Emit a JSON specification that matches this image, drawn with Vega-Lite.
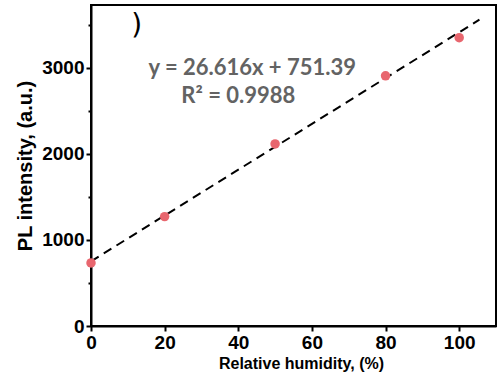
{
  "$schema": "https://vega.github.io/schema/vega-lite/v6.json",
  "width": 405,
  "height": 321,
  "autosize": "none",
  "padding": {"left": 91, "top": 5, "right": 4, "bottom": 54},
  "background": "white",
  "config": {
    "view": {"stroke": "black", "strokeWidth": 2},
    "axis": {
      "grid": false,
      "domainColor": "black",
      "domainWidth": 2,
      "tickColor": "black",
      "tickWidth": 2,
      "labelFont": "Liberation Sans",
      "labelFontWeight": "bold",
      "labelFontSize": 19,
      "labelColor": "black",
      "labelFlush": false,
      "titleFont": "Liberation Sans",
      "titleFontWeight": "bold",
      "titleColor": "black"
    }
  },
  "datasets": {
    "pts": [
      {"rh": 0, "pl": 733},
      {"rh": 20, "pl": 1271},
      {"rh": 50, "pl": 2116},
      {"rh": 80, "pl": 2907},
      {"rh": 100, "pl": 3350}
    ],
    "fit": [
      {"rh": 0, "pl": 751.39},
      {"rh": 105.5, "pl": 3559.4}
    ],
    "labels": [
      {"rh": 43.8, "pl": 3000, "t": "y = 26.616x + 751.39"},
      {"rh": 40, "pl": 2675, "t": "R² = 0.9988"}
    ],
    "mark": [
      {"rh": 12.4, "pl": 3490, "t": ")"}
    ]
  },
  "layer": [
    {
      "data": {"name": "fit"},
      "mark": {"type": "line", "color": "black", "strokeWidth": 2, "strokeDash": [9, 6]},
      "encoding": {
        "x": {
          "field": "rh", "type": "quantitative",
          "scale": {"domain": [0, 110], "nice": false},
          "axis": {
            "values": [0, 10, 20, 30, 40, 50, 60, 70, 80, 90, 100, 110],
            "labelExpr": "datum.value % 20 === 0 && datum.value <= 100 ? datum.label : ''",
            "tickSize": {"expr": "datum.value % 20 === 0 ? 5 : 3"},
            "labelPadding": 2,
            "title": "Relative humidity, (%)",
            "titleFontSize": 16,
            "titlePadding": 3,
            "titleX": 210
          }
        },
        "y": {
          "field": "pl", "type": "quantitative",
          "scale": {"domain": [0, 3730], "nice": false},
          "axis": {
            "values": [0, 500, 1000, 1500, 2000, 2500, 3000, 3500],
            "labelExpr": "datum.value % 1000 === 0 ? datum.value : ''",
            "tickSize": {"expr": "datum.value % 1000 === 0 ? 5 : 3"},
            "labelPadding": 2,
            "title": "PL intensity, (a.u.)",
            "titleFontSize": 20,
            "titlePadding": 6
          }
        }
      }
    },
    {
      "data": {"name": "pts"},
      "mark": {"type": "circle", "color": "#e8666e", "opacity": 1, "size": 90},
      "encoding": {
        "x": {"field": "rh", "type": "quantitative"},
        "y": {"field": "pl", "type": "quantitative"}
      }
    },
    {
      "data": {"name": "labels"},
      "mark": {"type": "text", "font": "Lato", "fontWeight": "bold", "fontSize": 22, "color": "#636363"},
      "encoding": {
        "x": {"field": "rh", "type": "quantitative"},
        "y": {"field": "pl", "type": "quantitative"},
        "text": {"field": "t"}
      }
    },
    {
      "data": {"name": "mark"},
      "mark": {"type": "text", "font": "DejaVu Sans", "fontWeight": "normal", "fontSize": 28, "color": "black"},
      "encoding": {
        "x": {"field": "rh", "type": "quantitative"},
        "y": {"field": "pl", "type": "quantitative"},
        "text": {"field": "t"}
      }
    }
  ]
}
